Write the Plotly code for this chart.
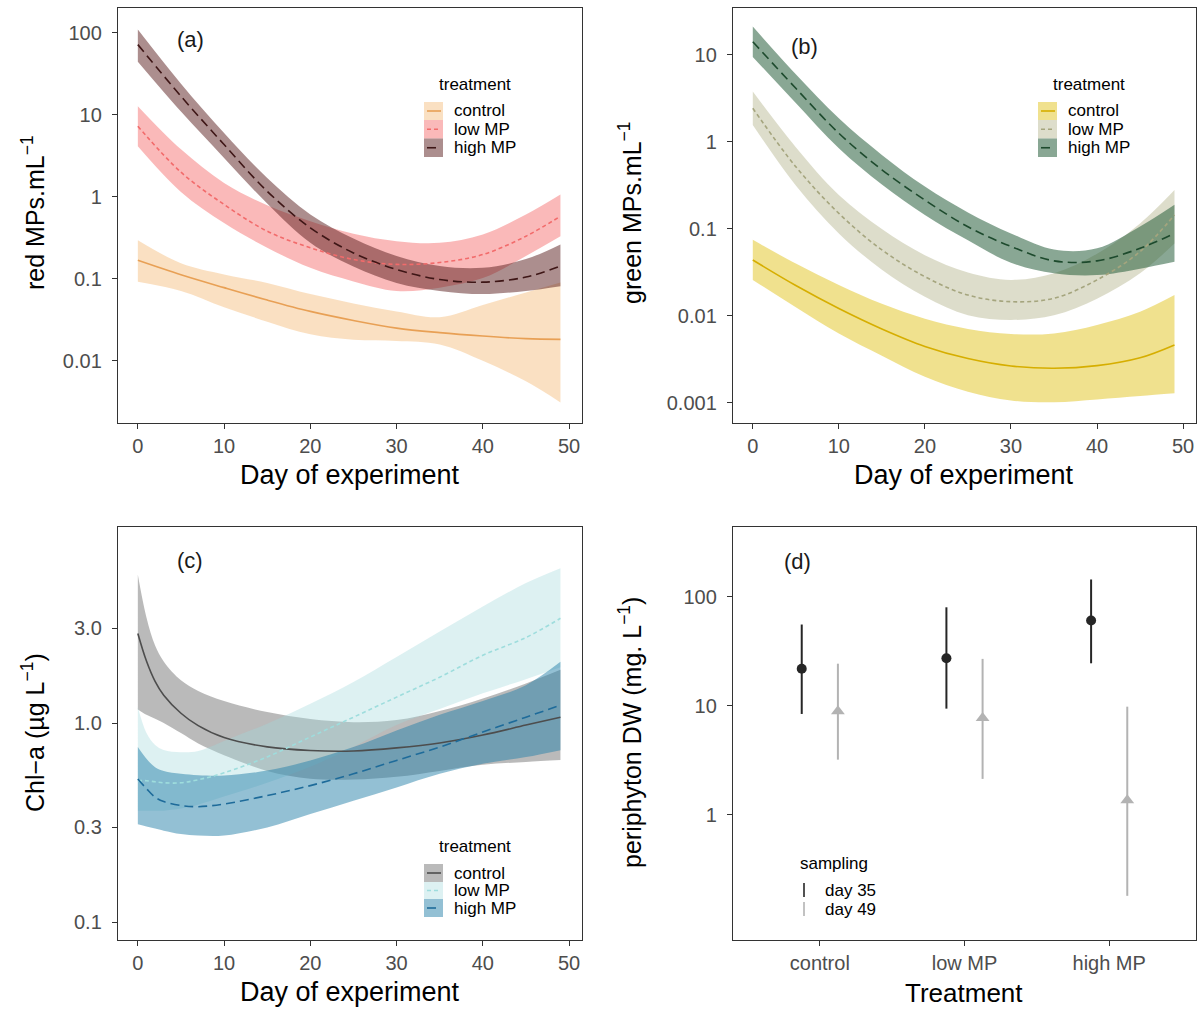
import plotly.graph_objects as go

W, H = 1204, 1009

# ---------------- data ----------------
days_ab = [0, 5, 10, 15, 20, 25, 30, 35, 40, 45, 49]

# (a) red MPs per mL
red_control = [0.168, 0.112, 0.078, 0.055, 0.040, 0.031, 0.025, 0.022, 0.020, 0.0186, 0.0182]
red_control_hi = [0.295, 0.155, 0.113, 0.089, 0.065, 0.050, 0.040, 0.034, 0.048, 0.068, 0.09]
red_control_lo = [0.092, 0.071, 0.045, 0.030, 0.021, 0.018, 0.0174, 0.0158, 0.010, 0.0056, 0.0031]
red_low = [7.28, 2.0, 0.807, 0.381, 0.239, 0.172, 0.150, 0.158, 0.198, 0.331, 0.581]
red_low_hi = [12.8, 3.8, 1.48, 0.79, 0.505, 0.355, 0.288, 0.275, 0.347, 0.61, 1.07]
red_low_lo = [4.15, 1.15, 0.48, 0.24, 0.136, 0.093, 0.071, 0.078, 0.102, 0.19, 0.33]
red_high = [72.1, 16.9, 4.35, 1.17, 0.419, 0.207, 0.130, 0.098, 0.091, 0.105, 0.143]
red_high_hi = [110, 24, 6.0, 1.7, 0.61, 0.31, 0.19, 0.143, 0.136, 0.174, 0.263]
red_high_lo = [44.7, 11.0, 2.99, 0.83, 0.275, 0.141, 0.089, 0.071, 0.065, 0.071, 0.081]

# (b) green MPs per mL
green_control = [0.044, 0.0224, 0.0122, 0.0071, 0.00447, 0.00324, 0.00266, 0.00251, 0.00269, 0.00331, 0.00465]
green_control_hi = [0.075, 0.040, 0.0227, 0.0138, 0.0093, 0.0071, 0.0062, 0.0063, 0.0079, 0.0112, 0.0174]
green_control_lo = [0.026, 0.0126, 0.0063, 0.0035, 0.0020, 0.00135, 0.00107, 0.00102, 0.0011, 0.0012, 0.00129]
green_low = [2.44, 0.52, 0.151, 0.0575, 0.0283, 0.0174, 0.0146, 0.016, 0.026, 0.055, 0.145]
green_low_hi = [3.8, 0.87, 0.246, 0.10, 0.050, 0.0316, 0.026, 0.031, 0.052, 0.116, 0.28]
green_low_lo = [1.57, 0.316, 0.089, 0.034, 0.0166, 0.0102, 0.009, 0.0102, 0.0158, 0.031, 0.068]
green_high = [14.2, 4.14, 1.26, 0.479, 0.215, 0.106, 0.063, 0.043, 0.043, 0.060, 0.089]
green_high_hi = [21.2, 6.0, 1.87, 0.71, 0.307, 0.155, 0.089, 0.058, 0.060, 0.107, 0.19]
green_high_lo = [9.5, 2.8, 0.845, 0.324, 0.145, 0.074, 0.041, 0.031, 0.0295, 0.035, 0.042]

# (c) Chl-a
days_c = [0, 1, 2, 3, 5, 7, 10, 15, 20, 25, 30, 35, 40, 45, 49]
chl_control = [2.82, 2.05, 1.62, 1.38, 1.12, 0.97, 0.845, 0.759, 0.728, 0.724, 0.75, 0.794, 0.871, 0.977, 1.07]
chl_control_hi = [5.56, 3.39, 2.45, 2.04, 1.64, 1.45, 1.29, 1.135, 1.047, 1.01, 1.035, 1.15, 1.33, 1.58, 1.85]
chl_control_lo = [1.17, 1.10, 1.05, 1.0, 0.89, 0.79, 0.69, 0.575, 0.525, 0.52, 0.537, 0.575, 0.617, 0.638, 0.652]
chl_low = [0.514, 0.513, 0.507, 0.501, 0.501, 0.519, 0.562, 0.676, 0.851, 1.07, 1.35, 1.70, 2.19, 2.69, 3.36]
chl_low_hi = [1.20, 0.891, 0.776, 0.733, 0.714, 0.724, 0.813, 0.993, 1.25, 1.61, 2.15, 2.88, 3.85, 5.05, 6.0]
chl_low_lo = [0.363, 0.363, 0.363, 0.363, 0.372, 0.389, 0.427, 0.501, 0.603, 0.759, 0.977, 1.175, 1.41, 1.66, 1.905]
chl_high = [0.524, 0.468, 0.424, 0.403, 0.385, 0.380, 0.392, 0.432, 0.485, 0.556, 0.649, 0.757, 0.902, 1.07, 1.23]
chl_high_hi = [0.757, 0.661, 0.600, 0.575, 0.556, 0.547, 0.545, 0.577, 0.649, 0.757, 0.918, 1.10, 1.29, 1.55, 2.03]
chl_high_lo = [0.310, 0.302, 0.295, 0.288, 0.277, 0.272, 0.272, 0.299, 0.349, 0.407, 0.475, 0.556, 0.624, 0.675, 0.731]

# (d) periphyton dry weight
treatments = ["control", "low MP", "high MP"]
dw35 = [21.8, 27.3, 60.5]
dw35_hi = [55.6, 80.0, 144.0]
dw35_lo = [8.4, 9.4, 24.5]
dw49 = [8.9, 7.7, 1.36]
dw49_hi = [24.3, 26.9, 9.8]
dw49_lo = [3.2, 2.13, 0.18]

legend_labels = ["control", "low MP", "high MP"]

# ---------------- styles ----------------
FONT = "Liberation Sans, Arial, sans-serif"
TICKC = "#4D4D4D"
AXC = "#333333"

styles = {
    "a": [("#E8A055", "rgba(244,180,110,0.42)", "solid"),
          ("#F26B6B", "rgba(245,100,100,0.45)", "4px,3px"),
          ("#3E1616", "rgba(90,30,30,0.5)", "9px,5px")],
    "b": [("#D6AE00", "rgba(225,195,30,0.5)", "solid"),
          ("#A5A57E", "rgba(180,180,140,0.45)", "4px,3px"),
          ("#1D4A2D", "rgba(40,95,60,0.55)", "9px,5px")],
    "c": [("#4D4D4D", "rgba(110,110,110,0.48)", "solid"),
          ("#9EDDDD", "rgba(160,215,220,0.36)", "4px,3px"),
          ("#1E6B9A", "rgba(40,130,170,0.5)", "9px,5px")],
}

fig = go.Figure()


def add_panel(ax, days, series, st):
    xa = "x" if ax == 1 else f"x{ax}"
    ya = "y" if ax == 1 else f"y{ax}"
    for (mean, hi, lo), (lc, fc, dash) in zip(series, st):
        fig.add_trace(go.Scatter(x=days, y=lo, mode="lines", xaxis=xa, yaxis=ya,
                                 line=dict(width=0, shape="spline", color=fc),
                                 showlegend=False, hoverinfo="skip"))
        fig.add_trace(go.Scatter(x=days, y=hi, mode="lines", xaxis=xa, yaxis=ya,
                                 line=dict(width=0, shape="spline", color=fc),
                                 fill="tonexty", fillcolor=fc,
                                 showlegend=False, hoverinfo="skip"))
    for (mean, hi, lo), (lc, fc, dash) in zip(series, st):
        fig.add_trace(go.Scatter(x=days, y=mean, mode="lines", xaxis=xa, yaxis=ya,
                                 line=dict(width=1.6, shape="spline", color=lc, dash=dash),
                                 showlegend=False))


add_panel(1, days_ab, [(red_control, red_control_hi, red_control_lo),
                       (red_low, red_low_hi, red_low_lo),
                       (red_high, red_high_hi, red_high_lo)], styles["a"])
add_panel(2, days_ab, [(green_control, green_control_hi, green_control_lo),
                       (green_low, green_low_hi, green_low_lo),
                       (green_high, green_high_hi, green_high_lo)], styles["b"])
add_panel(3, days_c, [(chl_control, chl_control_hi, chl_control_lo),
                      (chl_low, chl_low_hi, chl_low_lo),
                      (chl_high, chl_high_hi, chl_high_lo)], styles["c"])

# panel d
pos = [1, 2, 3]
dodge = 0.125
fig.add_trace(go.Scatter(
    x=[p - dodge for p in pos], y=dw35, mode="markers", xaxis="x4", yaxis="y4",
    marker=dict(symbol="circle", size=10, color="#262626"),
    error_y=dict(type="data", symmetric=False,
                 array=[h - v for h, v in zip(dw35_hi, dw35)],
                 arrayminus=[v - l for v, l in zip(dw35, dw35_lo)],
                 color="#262626", thickness=2, width=0),
    showlegend=False))
fig.add_trace(go.Scatter(
    x=[p + dodge for p in pos], y=dw49, mode="markers", xaxis="x4", yaxis="y4",
    marker=dict(symbol="triangle-up", size=12, color="#B3B3B3"),
    error_y=dict(type="data", symmetric=False,
                 array=[h - v for h, v in zip(dw49_hi, dw49)],
                 arrayminus=[v - l for v, l in zip(dw49, dw49_lo)],
                 color="#B3B3B3", thickness=2, width=0),
    showlegend=False))

# ---------------- layout ----------------
dom_l = [118 / W, 582 / W]
dom_r = [733 / W, 1196 / W]
dom_t = [1 - 423 / H, 1 - 8 / H]
dom_b = [1 - 940 / H, 1 - 527 / H]

common = dict(showline=True, mirror=True, linecolor=AXC, linewidth=1.4,
              ticks="outside", ticklen=5, tickwidth=1.2, tickcolor=AXC,
              showgrid=False, zeroline=False,
              tickfont=dict(family=FONT, size=20, color=TICKC))

xdays = dict(range=[-2.3, 51.5], tickvals=[0, 10, 20, 30, 40, 50], **common)

fig.update_layout(
    width=W, height=H, margin=dict(l=0, r=0, t=0, b=0),
    paper_bgcolor="white", plot_bgcolor="white", showlegend=False,
    font=dict(family=FONT),
    xaxis=dict(domain=dom_l, anchor="y", **xdays),
    yaxis=dict(domain=dom_t, anchor="x", type="log", range=[-2.76, 2.305],
               tickvals=[0.01, 0.1, 1, 10, 100], ticktext=["0.01", "0.1", "1", "10", "100"],
               ticklabelstandoff=6, **common),
    xaxis2=dict(domain=dom_r, anchor="y2", **xdays),
    yaxis2=dict(domain=dom_t, anchor="x2", type="log", range=[-3.23, 1.54],
                tickvals=[0.001, 0.01, 0.1, 1, 10], ticktext=["0.001", "0.01", "0.1", "1", "10"],
                ticklabelstandoff=6, **common),
    xaxis3=dict(domain=dom_l, anchor="y3", **xdays),
    yaxis3=dict(domain=dom_b, anchor="x3", type="log", range=[-1.09, 0.985],
                tickvals=[0.1, 0.3, 1.0, 3.0], ticktext=["0.1", "0.3", "1.0", "3.0"],
                ticklabelstandoff=6, **common),
    xaxis4=dict(domain=dom_r, anchor="y4", range=[0.4, 3.6],
                tickvals=pos, ticktext=treatments, **common),
    yaxis4=dict(domain=dom_b, anchor="x4", type="log", range=[-1.15, 2.64],
                tickvals=[1, 10, 100], ticktext=["1", "10", "100"],
                ticklabelstandoff=6, **common),
)


def px(x):
    return x / W


def py(y):
    return 1 - y / H


ann = []
shapes = []


def text(x, y, s, size, color="black", angle=0, xanchor="center"):
    ann.append(dict(x=px(x), y=py(y), xref="paper", yref="paper", text=s,
                    showarrow=False, textangle=angle, xanchor=xanchor, yanchor="middle",
                    font=dict(family=FONT, size=size, color=color)))


# axis titles
text(350, 475, "Day of experiment", 27)
text(964, 475, "Day of experiment", 27)
text(350, 992, "Day of experiment", 27)
text(964, 993, "Treatment", 26)
text(33, 213, "red MPs.mL<sup>−1</sup>", 25, angle=-90)
text(630, 213, "green MPs.mL<sup>−1</sup>", 25, angle=-90)
text(33, 733, "Chl−a (µg L<sup>−1</sup>)", 25, angle=-90)
text(630, 733, "periphyton DW (mg. L<sup>−1</sup>)", 25, angle=-90)

# panel tags
text(190, 40, "(a)", 22, "#1a1a1a")
text(804, 47, "(b)", 22, "#1a1a1a")
text(190, 560, "(c)", 22, "#1a1a1a")
text(797, 561, "(d)", 22, "#1a1a1a")


def treat_legend(st, x0, title_y, title_x, rows):
    text(title_x, title_y, "treatment", 17)
    for (lc, fc, dash), (r0, r1), lab in zip(st, rows, legend_labels):
        shapes.append(dict(type="rect", xref="paper", yref="paper",
                           x0=px(x0), x1=px(x0 + 19), y0=py(r1), y1=py(r0),
                           fillcolor=fc, line=dict(width=0), layer="above"))
        ym = (r0 + r1) / 2
        shapes.append(dict(type="line", xref="paper", yref="paper",
                           x0=px(x0 + 3), x1=px(x0 + 17), y0=py(ym), y1=py(ym),
                           line=dict(color=lc, width=1.6, dash=dash), layer="above"))
        text(x0 + 28, ym, lab, 17, xanchor="left")


rows_top = [(102, 120), (120, 138.5), (138.5, 157)]
treat_legend(styles["a"], 424, 85, 475, rows_top)
treat_legend(styles["b"], 1038, 85, 1089, rows_top)
rows_c = [(864, 882), (882, 899), (899, 917)]
treat_legend(styles["c"], 424, 846, 475, rows_c)

# sampling legend (d)
text(834, 863, "sampling", 17)
for (y0, y1), col, lab in zip([(883, 897), (902, 916)], ["#262626", "#B3B3B3"], ["day 35", "day 49"]):
    shapes.append(dict(type="line", xref="paper", yref="paper",
                       x0=px(804), x1=px(804), y0=py(y0), y1=py(y1),
                       line=dict(color=col, width=1.6)))
    text(823, (y0 + y1) / 2, lab, 17, xanchor="left")

fig.update_layout(annotations=ann, shapes=shapes)

fig.write_html("out.html", config={"displayModeBar": False},
               post_script="document.body.style.margin='0px';document.body.style.overflow='hidden';")
